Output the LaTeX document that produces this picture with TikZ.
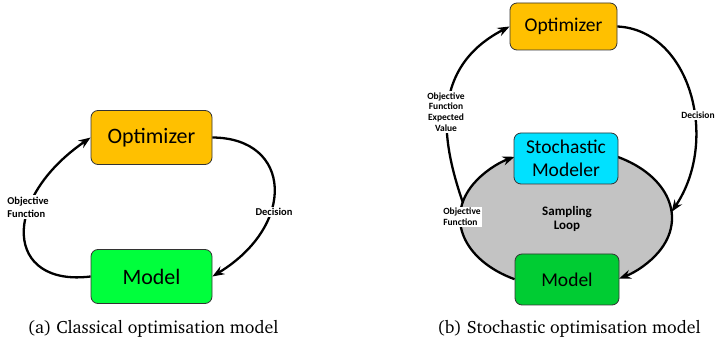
\documentclass[tikz,border=0pt]{standalone}
\usepackage[T1]{fontenc}
\usepackage{fontspec}
\newfontfamily\carl{Carlito}
\usetikzlibrary{arrows.meta,calc}
\definecolor{optorange}{HTML}{FFC000}
\definecolor{stocyan}{HTML}{00E1FF}
\definecolor{brightgreen}{HTML}{00FF3C}
\definecolor{darkgreen}{HTML}{00CC33}
\definecolor{loopgray}{HTML}{C3C3C3}
\newcommand{\captfont}{\fontencoding{T1}\fontfamily{bch}\fontsize{17.8}{20}\selectfont}
\tikzset{
  box/.style={draw=black!80, line width=0.8pt, rounded corners=7pt, inner sep=0pt, align=center},
  boxA/.style={box, minimum width=121pt, minimum height=54pt, font=\carl\fontsize{22}{24}\selectfont},
  boxB/.style={box, minimum width=104pt, minimum height=51pt, font=\carl\fontsize{19.5}{23}\selectfont},
  arr/.style={line width=2.3pt, -{Stealth[length=12pt,width=9pt,inset=4pt]}},
  lblA/.style={fill=white, inner sep=1.5pt, font=\carl\bfseries\fontsize{10.5}{13}\selectfont},
  lblB/.style={fill=white, inner sep=1.5pt, font=\carl\bfseries\fontsize{9.5}{10.7}\selectfont},
  capt/.style={font=\captfont}
}
\begin{document}
\begin{tikzpicture}[x=1pt,y=-1pt]
\useasboundingbox (0,0) rectangle (716,342);
% ---------- (a) ----------
\node[boxA, fill=optorange] (oa) at (151.5,137.5) {Optimizer};
\node[boxA, fill=brightgreen] (ma) at (151.5,276.5) {Model};
\draw[arr] (ma.west) .. controls (5,287) and (0,200) .. (oa.west);
\draw[arr] (oa.east) .. controls (292,138) and (297,225) .. (ma.east);
\node[lblA, align=left] (la) at (28,207) {Objective\\Function};
\node[lblA] (da) at (274,212) {Decision};
\node[capt] (ca) at (153,329) {(a) Classical optimisation model};
% ---------- (b) ----------
\coordinate (E) at (566,218);
\fill[loopgray] (E) ellipse [x radius=106pt, y radius=70pt];
\coordinate (e241) at ($(E)+(241:106pt and 70pt)$);
\coordinate (e61) at ($(E)+(61:106pt and 70pt)$);
\coordinate (e167) at ($(E)+(167:106pt and 70pt)$);
\coordinate (e5) at ($(E)+(5:106pt and 70pt)$);
\draw[arr] (e241) arc[start angle=241, end angle=119, x radius=106pt, y radius=70pt];
\draw[arr] (e61) arc[start angle=61, end angle=-60, x radius=106pt, y radius=70pt];
\node[boxB, fill=optorange, minimum width=107pt, minimum height=47pt] (ob) at (563.5,26.5) {Optimizer};
\node[boxB, fill=stocyan] (sb) at (566,158.5) {Stochastic\\Modeler};
\node[boxB, fill=darkgreen] (mb) at (567,279.5) {Model};
\draw[arr] (e167) .. controls (445,150) and (425,70) .. (ob.west);
\draw[arr] (ob.east) .. controls (690,30) and (720,140) .. (e5);
\node[lblB, align=center] (lb1) at (446,112) {Objective\\Function\\Expected\\Value};
\node[lblB, align=left] (lb2) at (462,217) {Objective\\Function};
\node[lblB] (db) at (698,115) {Decision};
\node[font=\carl\bfseries\fontsize{13}{14}\selectfont, align=center] (sl) at (567,219) {Sampling\\Loop};
\node[capt] (cb) at (569,329) {(b) Stochastic optimisation model};
\end{tikzpicture}
\end{document}
